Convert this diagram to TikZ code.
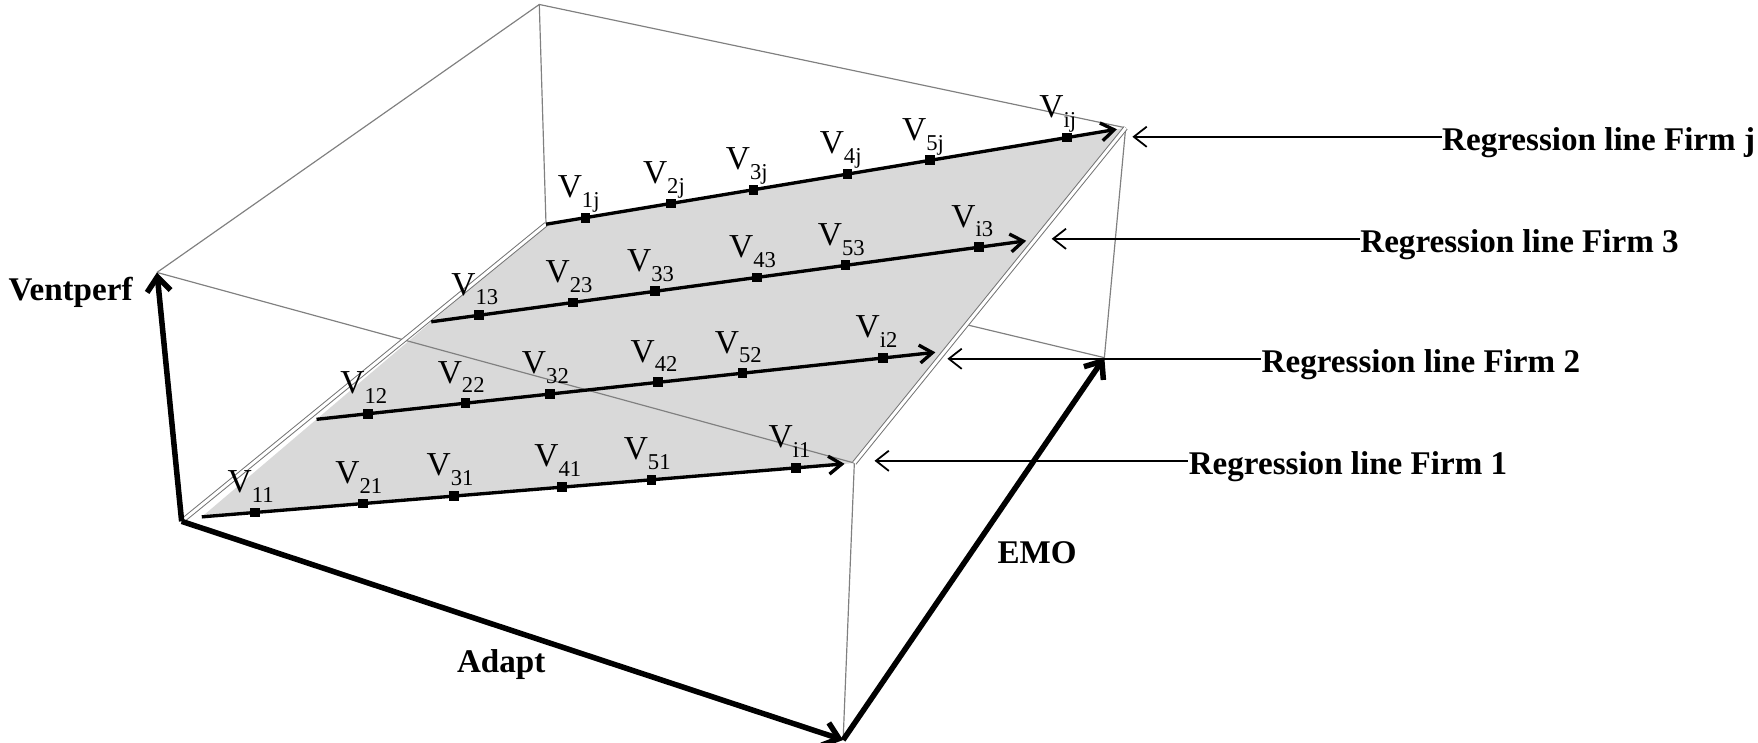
\documentclass[tikz,border=0pt]{standalone}
\usepackage{fontspec}
\setmainfont{Liberation Serif}
\usetikzlibrary{arrows.meta,calc}
\newcommand{\VV}[1]{V\raisebox{-5pt}{\fontsize{11.5}{11.5}\selectfont #1}}
\tikzset{
  boxline/.style={draw=black!50, line width=0.6pt},
  planeedge/.style={draw=black!55, line width=0.5pt, double=white, double distance=1.5pt},
  reg/.style={line width=1.7pt, -{Straight Barb[length=2.3mm,width=3.2mm]}},
  dot/.style={rectangle, fill=black, minimum size=1.75mm, inner sep=0pt},
  vlab/.style={anchor=base west, inner sep=0pt, font=\fontsize{17}{17}\selectfont},
  axis/.style={line width=2.8pt, -{Straight Barb[length=2.6mm,width=4.2mm]}},
  axlab/.style={anchor=base, font=\fontsize{16.8}{16.8}\selectfont\bfseries, inner sep=0pt},
  ptr/.style={line width=0.9pt, {Straight Barb[length=2.3mm,width=3.6mm]}-},
  ptrlab/.style={anchor=base west, inner sep=0pt, font=\fontsize{16.8}{16.8}\selectfont\bfseries}
}
\begin{document}
\begin{tikzpicture}[x=0.02cm,y=-0.02cm]
\useasboundingbox (0,0) rectangle (1568,662);
% box corners
\coordinate (A) at (481,4);
\coordinate (B) at (140,243);
\coordinate (C) at (1004,114);
\coordinate (D) at (762,413);
\coordinate (E) at (487,200);
\coordinate (F) at (985,319);
\coordinate (G) at (752,660);
\coordinate (O) at (162,465);
\coordinate (H) at (180,461);
% back box lines
\draw[boxline] (B) -- (A) -- (C);
\draw[boxline] (A) -- (E);
\draw[boxline] (E) -- (F);
\draw[boxline] (C) -- (F);
\draw[boxline] (D) -- (G);
% plane
\fill[black!15] (H) -- (D) -- (C) -- (E) -- cycle;
\draw[boxline] (B) -- (D);
\draw[planeedge] (O) -- (E);
\draw[planeedge] (D) -- (C);
% regression lines
\foreach \k/\s/\fl in {
  0/1/{0.082/1,0.247/2,0.387/3,0.552/4,0.689/5,0.911/i},
  1/2/{0.082/1,0.237/2,0.371/3,0.544/4,0.678/5,0.902/i},
  2/3/{0.079/1,0.235/2,0.370/3,0.539/4,0.686/5,0.907/i},
  3/j/{0.068/1,0.215/2,0.358/3,0.520/4,0.662/5,0.899/i}} {
  \coordinate (ls\s) at ($(H)!\k/3!(E)$);
  \coordinate (le\s) at ($(D)!\k/3!(C)$);
  \coordinate (lt\s) at ($(ls\s)!0.985!(le\s)$);
  \draw[reg] (ls\s) -- (lt\s);
  \foreach \f/\i in \fl {
    \node[dot] (v\i\s) at ($(ls\s)!\f!(le\s)$) {};
    \node[vlab] (t\i\s) at ($(v\i\s)+(-25,-18)$) {\VV{\i\s}};
  }
}
% axes
\draw[axis] (O) -- (B);
\draw[axis] (O) -- (G);
\draw[axis] (G) -- (F);
\node[axlab] (ven) at (63,268) {Ventperf};
\node[axlab] (adp) at (447,600) {Adapt};
\node[axlab] (emo) at (925,503) {EMO};
% pointers
\node[ptrlab] (rj) at (1286,134) {Regression line Firm j};
\node[ptrlab] (r3) at (1213,225) {Regression line Firm 3};
\node[ptrlab] (r2) at (1125,332) {Regression line Firm 2};
\node[ptrlab] (r1) at (1060,423) {Regression line Firm 1};
\coordinate (pj) at (1010,122);
\coordinate (p3) at (938,213);
\coordinate (p2) at (845,320);
\coordinate (p1) at (780,411);
\draw[ptr] (pj) -- (pj -| rj.west);
\draw[ptr] (p3) -- (p3 -| r3.west);
\draw[ptr] (p2) -- (p2 -| r2.west);
\draw[ptr] (p1) -- (p1 -| r1.west);
\end{tikzpicture}
\end{document}
